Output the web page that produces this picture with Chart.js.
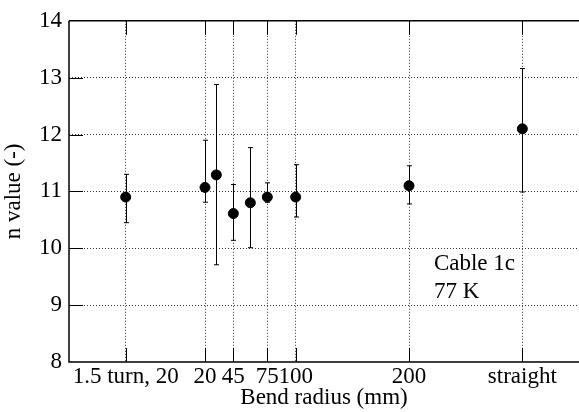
<!DOCTYPE html>
<html>
<head>
<meta charset="utf-8">
<script src="https://cdn.jsdelivr.net/npm/chart.js@4/dist/chart.umd.min.js"></script>
<style>
  html, body { margin: 0; padding: 0; background: #fff; }
  #wrap { width: 579px; height: 412px; }
</style>
</head>
<body>
<div id="wrap"><canvas id="c" width="579" height="412"></canvas></div>
<script>
// 데이터
const bendX = [-50, 20, 30, 45, 60, 75, 100, 200, 300];
const nValue = [10.9, 11.07, 11.29, 10.61, 10.8, 10.9, 10.9, 11.1, 12.1];
const nLow = [10.45, 10.81, 9.71, 10.14, 10.01, 10.81, 10.55, 10.78, 10.99];
const nHigh = [11.30, 11.90, 12.88, 11.12, 11.77, 11.15, 11.47, 11.45, 13.16];
const xTickPos = [-50, 20, 45, 75, 100, 200, 300];
const xTickLabels = ["1.5 turn, 20", "20", "45", "75", "100", "200", "straight"];
const yTicks = [8, 9, 10, 11, 12, 13, 14];
const noteLines = ["Cable 1c", "77 K"];

const FONT = "'Liberation Serif', 'Times New Roman', serif";

// 에러바 + 안쪽 눈금 + 주석
const extras = {
  id: "extras",
  beforeDatasetsDraw(chart) {
    const { ctx } = chart;
    const xs = chart.scales.x, ys = chart.scales.y;
    ctx.save();
    ctx.strokeStyle = "#000";
    ctx.lineWidth = 1;
    bendX.forEach((xv, i) => {
      const px = Math.round(xs.getPixelForValue(xv)) + 0.5;
      const lo = ys.getPixelForValue(nLow[i]);
      const hi = ys.getPixelForValue(nHigh[i]);
      ctx.beginPath();
      ctx.moveTo(px, lo); ctx.lineTo(px, hi);
      ctx.moveTo(px - 2.5, lo); ctx.lineTo(px + 2.5, lo);
      ctx.moveTo(px - 2.5, hi); ctx.lineTo(px + 2.5, hi);
      ctx.stroke();
    });
    ctx.restore();
  },
  afterDraw(chart) {
    const { ctx, chartArea: a } = chart;
    const xs = chart.scales.x, ys = chart.scales.y;
    ctx.save();
    ctx.strokeStyle = "#000";
    ctx.lineWidth = 1.5;
    ctx.beginPath();
    ctx.moveTo(a.left, a.top); ctx.lineTo(a.right, a.top);
    ctx.moveTo(a.left, a.top); ctx.lineTo(a.left, a.bottom);
    ctx.lineTo(a.right, a.bottom);
    ctx.stroke();
    ctx.lineWidth = 1;
    yTicks.slice(1, -1).forEach(v => {
      const py = Math.round(ys.getPixelForValue(v)) + 0.5;
      ctx.beginPath();
      ctx.moveTo(a.left, py); ctx.lineTo(a.left + 14, py);
      ctx.stroke();
    });
    xTickPos.forEach(v => {
      const px = Math.round(xs.getPixelForValue(v)) + 0.5;
      ctx.beginPath();
      ctx.moveTo(px, a.bottom); ctx.lineTo(px, a.bottom - 14);
      ctx.moveTo(px, a.top); ctx.lineTo(px, a.top + 14);
      ctx.stroke();
    });
    ctx.fillStyle = "#000";
    ctx.font = "23px " + FONT;
    ctx.textBaseline = "middle";
    ctx.textAlign = "left";
    ctx.fillText(noteLines[0], xs.getPixelForValue(222), ys.getPixelForValue(9.73));
    ctx.fillText(noteLines[1], xs.getPixelForValue(222), ys.getPixelForValue(9.24));
    ctx.restore();
  }
};

new Chart(document.getElementById("c").getContext("2d"), {
  type: "scatter",
  data: {
    datasets: [{
      data: bendX.map((x, i) => ({ x, y: nValue[i] })),
      backgroundColor: "#000",
      borderColor: "#000",
      pointRadius: 5,
      pointHoverRadius: 5,
      showLine: false
    }]
  },
  options: {
    responsive: false,
    animation: false,
    devicePixelRatio: 1,
    layout: { autoPadding: false, padding: { top: 18, right: 0, left: 0, bottom: 0 } },
    plugins: { legend: { display: false }, tooltip: { enabled: false } },
    scales: {
      x: {
        type: "linear",
        min: -100,
        max: 350,
        afterBuildTicks: s => { s.ticks = xTickPos.map(v => ({ value: v })); },
        afterFit: s => { s.height = 50; s.paddingLeft = 0; s.paddingRight = 0; },
        ticks: {
          autoSkip: false,
          maxRotation: 0,
          padding: 1,
          color: "#000",
          font: { family: FONT, size: 23 },
          callback: (v) => {
            const i = xTickPos.indexOf(v);
            return i >= 0 ? xTickLabels[i] : "";
          }
        },
        grid: {
          drawTicks: false,
          color: "#333",
          lineWidth: 1,
          borderDash: [1, 2]
        },
        border: { display: false, dash: [1, 2] },
        title: {
          display: true,
          text: "Bend radius (mm)",
          color: "#000",
          font: { family: FONT, size: 23 },
          padding: { top: 0, bottom: 0 }
        }
      },
      y: {
        min: 8,
        max: 14,
        afterBuildTicks: s => { s.ticks = yTicks.map(v => ({ value: v })); },
        afterFit: s => { s.width = 69; },
        ticks: {
          padding: 7,
          color: "#000",
          font: { family: FONT, size: 23 }
        },
        grid: {
          drawTicks: false,
          color: ctx => (ctx.tick && (ctx.tick.value === 8 || ctx.tick.value === 14)) ? "rgba(0,0,0,0)" : "#333",
          lineWidth: 1,
          borderDash: [1, 2]
        },
        border: { display: false, dash: [1, 2] },
        title: {
          display: true,
          text: "n value (-)",
          color: "#000",
          font: { family: FONT, size: 23 },
          padding: { top: 0, bottom: 0 }
        }
      }
    }
  },
  plugins: [extras]
});
</script>
</body>
</html>
